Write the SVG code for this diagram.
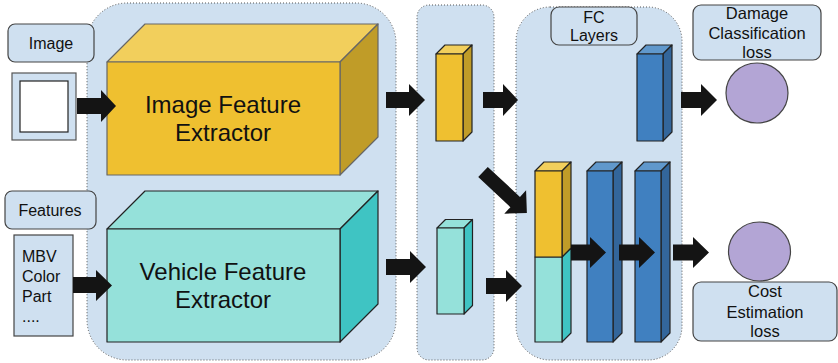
<svg xmlns="http://www.w3.org/2000/svg" width="838" height="363" viewBox="0 0 838 363">
<style>
.cont{fill:#cfe0f0;stroke:#555;stroke-width:1;stroke-dasharray:1 2}
.lbl{fill:#cfe0f0;stroke:#444;stroke-width:1.2}
.t{font-family:"Liberation Sans",Arial,sans-serif;fill:#111}
.big{font-size:24px;text-anchor:middle}
.sm{font-size:16px}
.md{font-size:16.5px;text-anchor:middle}
.yf{fill:#efc030}.yt{fill:#f2cf5c}.ys{fill:#c09c28}
.tf{fill:#95e1da}.tt{fill:#95e1da}.ts{fill:#3fc4c3}
.bf{fill:#4080c0}.bt{fill:#6098cc}.bs{fill:#33669b}
.e1{stroke:#666;stroke-width:1.2;stroke-linejoin:round}
.e2{stroke:#222;stroke-width:1.2;stroke-linejoin:round}
.arr{fill:#141414}
.circ{fill:#b3a5d5;stroke:#444;stroke-width:1.2}
</style>
<rect width="838" height="363" fill="#ffffff"/>
<g id="containers">
<rect class="cont" x="87" y="3" width="309" height="357" rx="40"/>
<rect class="cont" x="417" y="5" width="77" height="355" rx="12"/>
<rect class="cont" x="516" y="7" width="166" height="353" rx="34"/>
</g>
<g id="image-label">
<rect class="lbl" x="8" y="24" width="86" height="38" rx="7"/>
<text class="t sm" x="51" y="49" text-anchor="middle">Image</text>
</g>
<g id="image-input">
<rect x="12" y="73" width="64" height="67" fill="#cfe0f0" stroke="#555" stroke-width="1.2"/>
<rect x="20" y="81" width="48" height="51" fill="#ffffff" stroke="#222" stroke-width="1.2"/>
</g>
<g id="features-label">
<rect class="lbl" x="5" y="191" width="91" height="38" rx="7"/>
<text class="t sm" x="50" y="216" text-anchor="middle">Features</text>
</g>
<g id="features-input">
<rect x="14" y="235" width="59" height="101" fill="#cfe0f0" stroke="#444" stroke-width="1.2"/>
<text class="t sm" x="22" y="262">MBV</text>
<text class="t sm" x="22" y="282">Color</text>
<text class="t sm" x="22" y="302">Part</text>
<text class="t sm" x="22" y="322">....</text>
</g>
<g id="image-feature-extractor">
<polygon class="yt e1" points="107,62 145,24 378,24 340,62"/>
<polygon class="ys e1" points="340,62 378,24 378,137 340,175"/>
<rect class="yf e1" x="107" y="62" width="233" height="113"/>
<text class="t big" x="223" y="113">Image Feature</text>
<text class="t big" x="223" y="141">Extractor</text>
</g>
<g id="vehicle-feature-extractor">
<polygon class="tt e2" points="107,229 145,191 378,191 340,229"/>
<polygon class="ts e2" points="340,229 378,191 378,304 340,342"/>
<rect class="tf e2" x="107" y="229" width="233" height="113"/>
<text class="t big" x="223" y="280">Vehicle Feature</text>
<text class="t big" x="223" y="308">Extractor</text>
</g>
<g id="image-embedding">
<polygon class="yt e2" points="436,54 445,45 472,45 463,54"/>
<polygon class="ys e2" points="463,54 472,45 472,132 463,141"/>
<rect class="yf e2" x="436" y="54" width="27" height="87"/>
</g>
<g id="vehicle-embedding">
<polygon class="tt e2" points="437,228 445.5,219.5 472.5,219.5 464,228"/>
<polygon class="ts e2" points="464,228 472.5,219.5 472.5,305.5 464,314"/>
<rect class="tf e2" x="437" y="228" width="27" height="86"/>
</g>
<g id="fc-label">
<rect class="lbl" x="551" y="7" width="86" height="38" rx="8"/>
<text class="t sm" x="594" y="23" text-anchor="middle">FC</text>
<text class="t sm" x="594" y="41" text-anchor="middle">Layers</text>
</g>
<g id="fc-classification">
<polygon class="bt e2" points="637,54 646,45 672,45 663,54"/>
<polygon class="bs e2" points="663,54 672,45 672,132 663,141"/>
<rect class="bf e2" x="637" y="54" width="26" height="87"/>
</g>
<g id="concat">
<polygon class="ts e2" points="562,257 571,248 571,333 562,342"/>
<rect class="tf e2" x="535" y="257" width="27" height="85"/>
<polygon class="yt e2" points="535,171 544,162 571,162 562,171"/>
<polygon class="ys e2" points="562,171 571,162 571,248 562,257"/>
<rect class="yf e2" x="535" y="171" width="27" height="86"/>
</g>
<g id="fc1">
<polygon class="bt e2" points="587,171 596,162 622,162 613,171"/>
<polygon class="bs e2" points="613,171 622,162 622,333 613,342"/>
<rect class="bf e2" x="587" y="171" width="26" height="171"/>
</g>
<g id="fc2">
<polygon class="bt e2" points="635,171 644,162 670,162 661,171"/>
<polygon class="bs e2" points="661,171 670,162 670,333 661,342"/>
<rect class="bf e2" x="635" y="171" width="26" height="171"/>
</g>
<g id="damage-label">
<rect class="lbl" x="693" y="5" width="128" height="55" rx="8"/>
<text class="t md" x="757" y="19">Damage</text>
<text class="t md" x="757" y="39">Classification</text>
<text class="t md" x="757" y="58">loss</text>
</g>
<g id="damage-loss">
<ellipse class="circ" cx="757" cy="93" rx="31" ry="30"/>
</g>
<g id="cost-loss">
<ellipse class="circ" cx="759.5" cy="251.5" rx="31" ry="29.5"/>
</g>
<g id="cost-label">
<rect class="lbl" x="693" y="282" width="144" height="59" rx="8"/>
<text class="t md" x="765" y="297">Cost</text>
<text class="t md" x="765" y="318">Estimation</text>
<text class="t md" x="765" y="337">loss</text>
</g>
<g id="connectors" class="arr">
<path d="M77 98 H101 V90 L116 106 L101 122 V114 H77 Z"/>
<path d="M73 277 H96 V270 L112 285.5 L96 301 V293 H73 Z"/>
<path d="M386 92 H409 V84 L425 100 L409 116 V108 H386 Z"/>
<path d="M386 259 H410 V251 L426 267 L410 283 V275 H386 Z"/>
<path d="M483 92 H503 V84 L518 100 L503 116 V108 H483 Z"/>
<path d="M486 278 H506 V270 L522 286 L506 302 V294 H486 Z"/>
<path transform="translate(483,172) rotate(43)" d="M0 -7 H44 V-16 L60 0 L44 16 V7 H0 Z"/>
<path d="M571 244.5 H590 V237 L606 252.5 L590 268 V260.5 H571 Z"/>
<path d="M619 244.5 H639 V237 L655 252.5 L639 268 V260.5 H619 Z"/>
<path d="M673 244.5 H693 V237 L709 252.5 L693 268 V260.5 H673 Z"/>
<path d="M681 92 H701 V84 L717 100 L701 116 V108 H681 Z"/>
</g>
</svg>
